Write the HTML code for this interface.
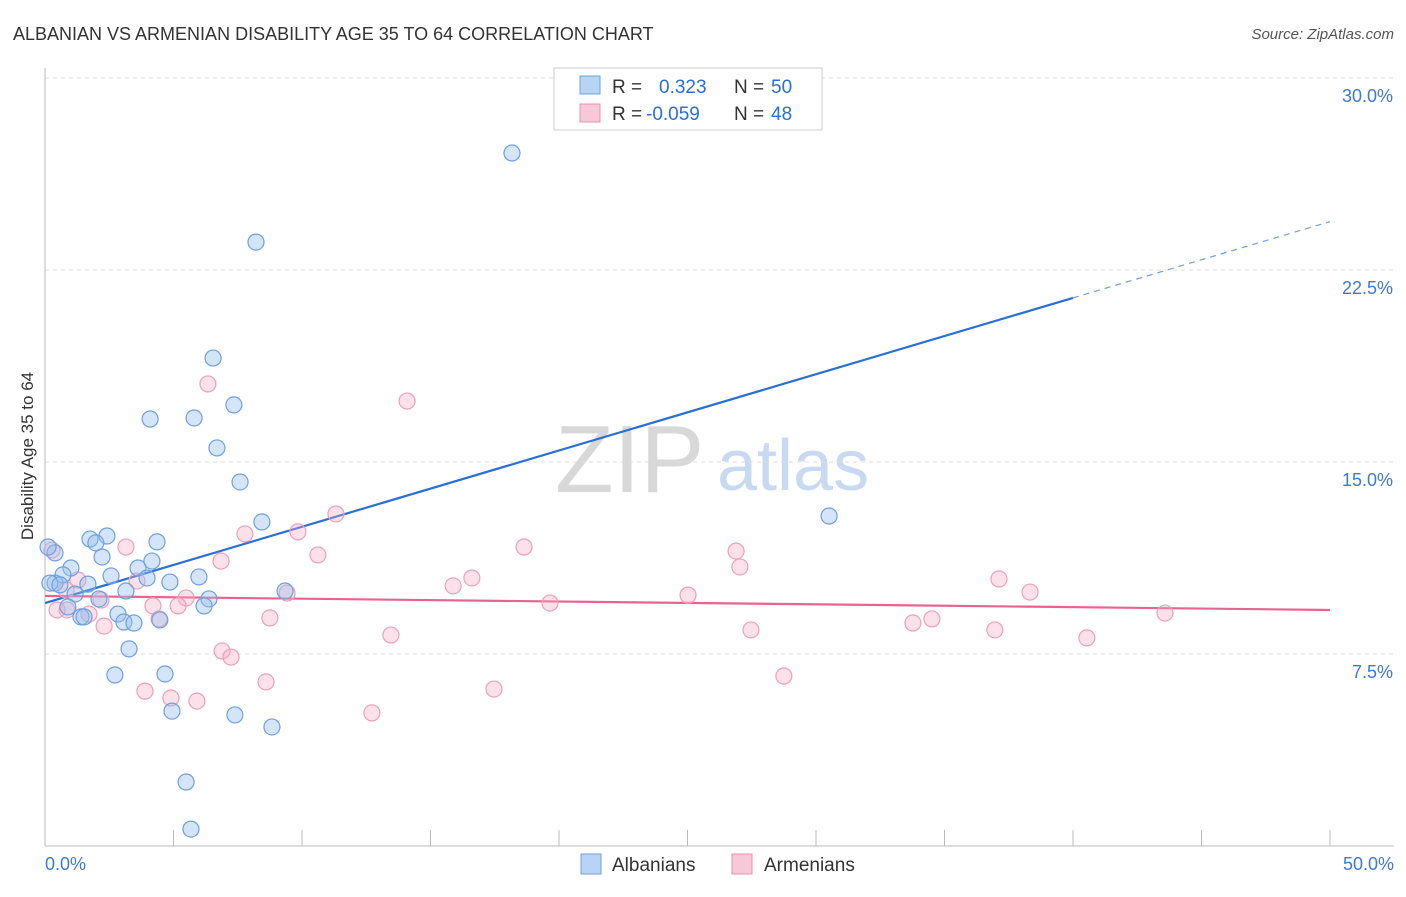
<!DOCTYPE html>
<html><head><meta charset="utf-8"><style>
body{margin:0;background:#fff;font-family:"Liberation Sans",sans-serif}
svg text{font-family:"Liberation Sans",sans-serif}
</style></head><body>
<svg id="chart" width="1406" height="892" viewBox="0 0 1406 892" xmlns="http://www.w3.org/2000/svg">
<text x="13" y="40" font-size="18" fill="#333">ALBANIAN VS ARMENIAN DISABILITY AGE 35 TO 64 CORRELATION CHART</text>
<text x="1394" y="39" font-size="15" fill="#555" text-anchor="end" font-style="italic">Source: ZipAtlas.com</text>
<g>
<text x="555" y="492" font-size="96" fill="#d8d8d8" font-family="Liberation Serif,serif">ZIP</text>
<text x="717" y="490" font-size="72" fill="#c8daf2">atlas</text>
</g>
<g id="grid"></g>
<g id="axes"></g>
<text transform="translate(33,456) rotate(-90)" font-size="17" fill="#333" text-anchor="middle">Disability Age 35 to 64</text>
<g id="lines"></g>
<g id="pts"></g>
<g>
<rect x="554" y="68" width="268" height="62" fill="#fff" stroke="#ccc"/>
<rect x="580" y="76" width="20" height="18" fill="#b8d4f5" stroke="#6fa0dc"/>
<rect x="580" y="104" width="20" height="18" fill="#f9c8d8" stroke="#e890ac"/>
<text x="612" y="93" font-size="19" fill="#333">R =</text>
<text x="659" y="93" font-size="19" fill="#2a6fd6">0.323</text>
<text x="734" y="93" font-size="19" fill="#333">N =</text>
<text x="771" y="93" font-size="19" fill="#2a6fd6">50</text>
<text x="612" y="120" font-size="19" fill="#333">R =</text>
<text x="646" y="120" font-size="19" fill="#2a6fd6">-0.059</text>
<text x="734" y="120" font-size="19" fill="#333">N =</text>
<text x="771" y="120" font-size="19" fill="#2a6fd6">48</text>
</g>
<g>
<rect x="581" y="854" width="20" height="20" fill="#b8d4f5" stroke="#6fa0dc"/>
<text x="612" y="871" font-size="19" fill="#333">Albanians</text>
<rect x="732" y="854" width="20" height="20" fill="#f9c8d8" stroke="#e890ac"/>
<text x="764" y="871" font-size="19" fill="#333">Armenians</text>
</g>
</svg>
<script>
const yTicks=[7.5,15,22.5,30];
const yTickLabels=["7.5%","15.0%","22.5%","30.0%"];
const xTickLabels=["0.0%","50.0%"];
const blueX=[18.17,8.21,6.54,4.09,5.80,7.35,6.69,7.59,30.51,8.44,2.41,1.75,1.98,4.36,0.39,2.22,4.16,1.01,0.70,3.62,2.57,3.97,0.39,1.67,4.86,5.99,0.19,1.17,3.15,9.34,2.10,6.38,0.89,6.19,2.84,1.40,1.52,3.07,3.46,4.47,3.27,2.72,4.67,4.94,7.39,8.83,5.49,5.68,0.12,0.58];
const blueY=[27.07,23.59,19.06,16.68,16.72,17.23,15.55,14.22,12.89,12.66,12.11,11.99,11.84,11.88,11.45,11.29,11.13,10.86,10.59,10.86,10.55,10.47,10.27,10.23,10.31,10.51,10.27,9.84,9.96,9.96,9.65,9.65,9.34,9.38,9.06,8.95,8.95,8.75,8.71,8.83,7.70,6.68,6.72,5.27,5.12,4.65,2.50,0.66,11.68,10.20];
const pinkX=[14.09,6.34,11.32,9.84,7.78,3.15,18.64,26.89,10.62,6.85,27.04,16.61,37.12,1.28,3.58,15.88,38.33,9.42,25.02,5.49,2.18,19.65,4.20,5.18,0.86,0.47,1.71,43.58,8.75,4.44,34.51,33.77,2.30,27.47,36.96,13.46,40.54,6.89,7.24,8.60,28.75,17.47,3.89,4.90,5.91,12.72,0.27,0.82];
const pinkY=[17.38,18.05,12.97,12.27,12.19,11.68,11.68,11.52,11.37,11.13,10.90,10.47,10.43,10.39,10.35,10.16,9.92,9.88,9.80,9.69,9.61,9.49,9.38,9.38,9.22,9.22,9.06,9.10,8.91,8.87,8.87,8.71,8.59,8.44,8.44,8.24,8.13,7.62,7.38,6.41,6.64,6.13,6.05,5.78,5.66,5.20,11.56,10.00];
const blueFit=[9.49,0.298];
const pinkFit=[9.77,-0.011];
const X=v=>45+v*25.7, Y=v=>846-v*25.6;
const NS="http://www.w3.org/2000/svg";
function mk(tag,parent,attrs){const e=document.createElementNS(NS,tag);for(const k in attrs)e.setAttribute(k,attrs[k]);document.getElementById(parent).appendChild(e);return e;}
yTicks.forEach((t,i)=>{
 const g=mk('line','grid',{x1:45,x2:1394,y1:Y(t),y2:Y(t),stroke:'#ddd','stroke-dasharray':'4,4'});
 
 
 const l=mk('text','axes',{x:1393,y:Y(t)+24,'font-size':18,fill:'#3d7ad6','text-anchor':'end'});
 l.textContent=yTickLabels[i];
 
 
});
const ax=mk('line','axes',{x1:45,x2:45,y1:68,y2:846,stroke:'#bbb'});


const bx=mk('line','axes',{x1:45,x2:1394,y1:846,y2:846,stroke:'#bbb'});


for(let i=0;i<=10;i++){
 const t=mk('line','axes',{x1:X(i*5),x2:X(i*5),y1:830,y2:846,stroke:'#bbb'});
 
 
}
[[0,'start',45],[50,'end',1394]].forEach((a,i)=>{
 const l=mk('text','axes',{x:a[2],y:870,'font-size':18,fill:'#3d7ad6','text-anchor':a[1]});
 l.textContent=xTickLabels[i];
 
 
});
const bl=mk('line','lines',{x1:X(0),y1:Y(blueFit[0]),x2:X(40),y2:Y(blueFit[0]+40*blueFit[1]),stroke:'#2a6fd6','stroke-width':2.2});


const bd=mk('line','lines',{x1:X(40),y1:Y(blueFit[0]+40*blueFit[1]),x2:X(50),y2:Y(blueFit[0]+50*blueFit[1]),stroke:'#6fa0dc','stroke-width':1.2,'stroke-dasharray':'6,5'});


const pl=mk('line','lines',{x1:X(0),y1:Y(pinkFit[0]),x2:X(50),y2:Y(pinkFit[0]+50*pinkFit[1]),stroke:'#e8648e','stroke-width':2.2});


pinkX.forEach((x,i)=>{
 const c=mk('circle','pts',{cx:X(x),cy:Y(pinkY[i]),r:8,fill:'rgba(245,170,196,0.35)',stroke:'#eba0ba','stroke-width':1.2});
 
 
});
blueX.forEach((x,i)=>{
 const c=mk('circle','pts',{cx:X(x),cy:Y(blueY[i]),r:8,fill:'rgba(150,190,240,0.4)',stroke:'#6fa0dc','stroke-width':1.2});
 
 
});
</script>
</body></html>
